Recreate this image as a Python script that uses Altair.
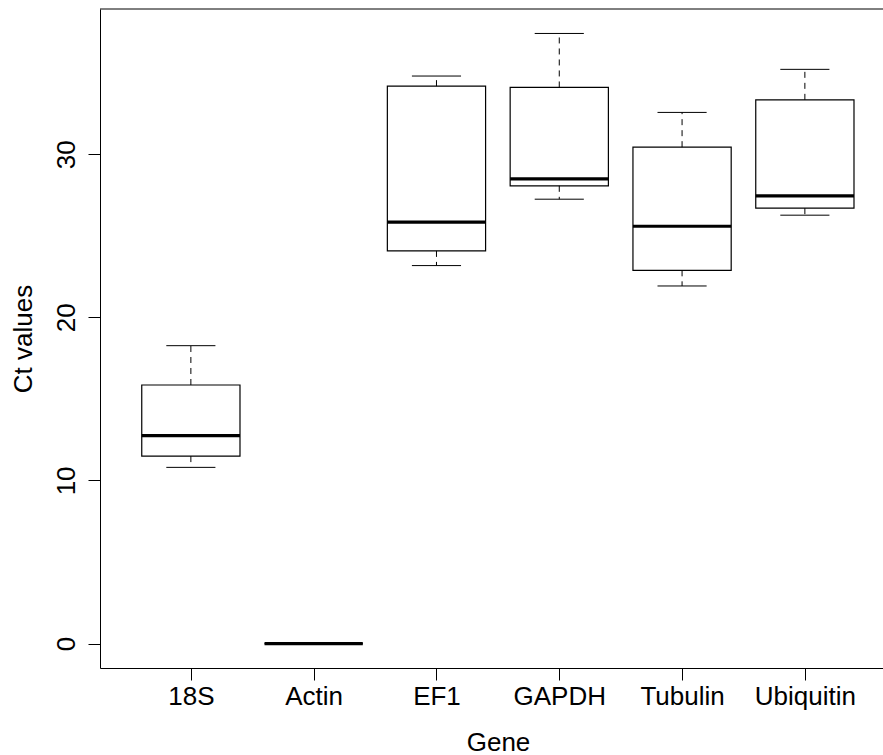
import json
import altair as alt
import pandas as pd

# Data
genes = ["18S", "Actin", "EF1", "GAPDH", "Tubulin", "Ubiquitin"]
lower = [10.80, 0.0, 23.17, 27.24, 21.92, 26.26]
q1 = [11.49, 0.0, 24.07, 28.06, 22.88, 26.69]
median = [12.74, 0.0, 25.83, 28.49, 25.58, 27.44]
q3 = [15.85, 0.0, 34.17, 34.09, 30.43, 33.33]
upper = [18.26, 0.0, 34.79, 37.40, 32.56, 35.20]
y_ticks = [0, 10, 20, 30]

df = pd.DataFrame({
    "gene": genes,
    "pos": list(range(1, len(genes) + 1)),
    "lower": lower,
    "q1": q1,
    "median": median,
    "q3": q3,
    "upper": upper,
})

PLOT_W = 783
PLOT_H = 659
STEP = 122.8  # pixels per category in reference

xscale = alt.Scale(domain=[0.26, 0.26 + PLOT_W / STEP], nice=False, zero=False)
yscale = alt.Scale(domain=[-1.5, 38.9], nice=False, zero=False)

label_expr = json.dumps(genes) + "[round(datum.value) - 1]"

x_axis = alt.Axis(
    values=list(range(1, len(genes) + 1)),
    labelExpr=label_expr,
    tickSize=12,
    labelPadding=3,
    labelBaseline="top",
    titleX=398,
    titleY=82,
    titleAlign="center",
    titleBaseline="alphabetic",
)
y_axis = alt.Axis(
    values=y_ticks,
    tickSize=12,
    labelAngle=270,
    labelAlign="center",
    labelBaseline="bottom",
    labelPadding=9,
    titleAngle=270,
    titleX=-77,
    titleY=PLOT_H / 2,
    titleAlign="center",
    titleBaseline="middle",
)


def X(field):
    return alt.X(field, type="quantitative", scale=xscale, axis=x_axis, title="Gene")


def Y(field):
    return alt.Y(field, type="quantitative", scale=yscale, axis=y_axis, title="Ct values")


base = alt.Chart(df).transform_calculate(
    bx1="datum.pos - 0.4",
    bx2="datum.pos + 0.4",
    cx1="datum.pos - 0.2",
    cx2="datum.pos + 0.2",
)

whisk_up = base.mark_rule(color="black", strokeWidth=1, strokeDash=[6, 5]).encode(
    x=X("pos"), y=Y("q3"), y2="upper:Q"
)
whisk_lo = base.mark_rule(color="black", strokeWidth=1, strokeDash=[6, 5]).encode(
    x=X("pos"), y=Y("q1"), y2="lower:Q"
)
cap_up = base.mark_rule(color="black", strokeWidth=1).encode(
    x=X("cx1"), x2="cx2:Q", y=Y("upper")
)
cap_lo = base.mark_rule(color="black", strokeWidth=1).encode(
    x=X("cx1"), x2="cx2:Q", y=Y("lower")
)
boxes = base.mark_rect(fill="white", stroke="black", strokeWidth=1.2).encode(
    x=X("bx1"), x2="bx2:Q", y=Y("q1"), y2="q3:Q"
)
med = base.mark_rule(color="black", strokeWidth=3.2).encode(
    x=X("bx1"), x2="bx2:Q", y=Y("median")
)
top_border = alt.Chart(pd.DataFrame({"a": [0]})).mark_rule(color="black", strokeWidth=1).encode(
    x=alt.value(0), x2=alt.value(PLOT_W), y=alt.value(0)
)

chart = alt.layer(
    boxes, whisk_up, whisk_lo, cap_up, cap_lo, med, top_border
).properties(
    width=PLOT_W,
    height=PLOT_H,
    autosize="none",
    padding={"left": 100, "top": 9, "right": 0, "bottom": 87},
).configure_view(
    stroke=None
).configure_axis(
    grid=False,
    domainColor="black",
    domainWidth=1,
    tickColor="black",
    tickWidth=1,
    labelColor="black",
    titleColor="black",
    labelFont="Liberation Sans",
    titleFont="Liberation Sans",
    labelFontSize=26,
    titleFontSize=26,
    titleFontWeight="normal",
)

chart.save("out.html", embed_options={"renderer": "svg", "actions": False})
